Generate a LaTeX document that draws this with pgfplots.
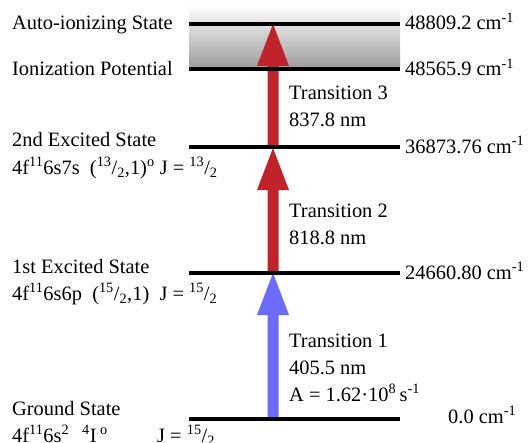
\documentclass[border=0pt]{standalone}
\usepackage{pgfplots}
\pgfplotsset{compat=1.18}
\usepackage{fontspec}
\setmainfont{Liberation Serif}
\definecolor{arrred}{HTML}{C1232B}
\definecolor{arrblue}{HTML}{6B6BFF}
\tikzset{lbl/.style={anchor=base west, inner sep=0pt, font=\fontsize{20.5}{24}\selectfont}}
\begin{document}
\begin{tikzpicture}
\begin{axis}[name=ax, hide axis, scale only axis, width=529bp, height=443bp,
  xmin=0, xmax=529, ymin=0, ymax=443, y dir=reverse, clip=false]
% ionization continuum band
\addplot[draw=none, top color=black!2, middle color=black!10, bottom color=black!38]
  coordinates {(189,8) (400,8) (400,67) (189,67) (189,8)};
% arrows
\addplot[fill=arrblue, draw=none] coordinates {(267.5,419) (278.5,419) (278.5,315) (289,315) (273,273) (257,315) (267.5,315) (267.5,419)};
\addplot[fill=arrred, draw=none] coordinates {(267.5,273) (278.5,273) (278.5,190) (289,190) (273,148) (257,190) (267.5,190) (267.5,273)};
\addplot[fill=arrred, draw=none] coordinates {(267.5,147) (278.5,147) (278.5,66) (289,66) (273,24) (257,66) (267.5,66) (267.5,147)};
% levels
\addplot[black, line width=4bp] coordinates {(189,24) (400,24)};
\addplot[black, line width=4bp] coordinates {(189,69) (400,69)};
\addplot[black, line width=4bp] coordinates {(189,147) (400,147)};
\addplot[black, line width=4bp] coordinates {(189,273) (400,273)};
\addplot[black, line width=4bp] coordinates {(189,419) (400,419)};
% left labels
\node[lbl] at (axis cs:12,30) {Auto-ionizing State};
\node[lbl] at (axis cs:12,76) {Ionization Potential};
\node[lbl] at (axis cs:12,146) {2nd Excited State};
\node[lbl] at (axis cs:12,174) {4f\textsuperscript{11}6s7s\ \ (\textsuperscript{13}/\textsubscript{2},1)\textsuperscript{o} J = \textsuperscript{13}/\textsubscript{2}};
\node[lbl] at (axis cs:12,273) {1st Excited State};
\node[lbl] at (axis cs:12,300) {4f\textsuperscript{11}6s6p\ \ (\textsuperscript{15}/\textsubscript{2},1)\ \ J = \textsuperscript{15}/\textsubscript{2}};
\node[lbl] at (axis cs:12,415) {Ground State};
\node[lbl] at (axis cs:12,442) {4f\textsuperscript{11}6s\textsuperscript{2}};
\node[lbl] at (axis cs:82,442) {\textsuperscript{4}I\,\textsuperscript{o}};
\node[lbl] at (axis cs:157,442) {J = \textsuperscript{15}/\textsubscript{2}};
% right labels
\node[lbl] at (axis cs:405,30) {48809.2 cm\textsuperscript{-1}};
\node[lbl] at (axis cs:405,76) {48565.9 cm\textsuperscript{-1}};
\node[lbl] at (axis cs:405,153) {36873.76 cm\textsuperscript{-1}};
\node[lbl] at (axis cs:405,279) {24660.80 cm\textsuperscript{-1}};
\node[lbl] at (axis cs:448,423) {0.0 cm\textsuperscript{-1}};
% transitions
\node[lbl] at (axis cs:289,100) {Transition 3};
\node[lbl] at (axis cs:289,127) {837.8 nm};
\node[lbl] at (axis cs:289,217) {Transition 2};
\node[lbl] at (axis cs:289,244) {818.8 nm};
\node[lbl] at (axis cs:289,347) {Transition 1};
\node[lbl] at (axis cs:289,374) {405.5 nm};
\node[lbl] at (axis cs:289,401) {A = 1.62·10\textsuperscript{8}\,s\textsuperscript{-1}};
\end{axis}
\pgfresetboundingbox
\path (ax.south west) rectangle (ax.north east);
\end{tikzpicture}
\end{document}
